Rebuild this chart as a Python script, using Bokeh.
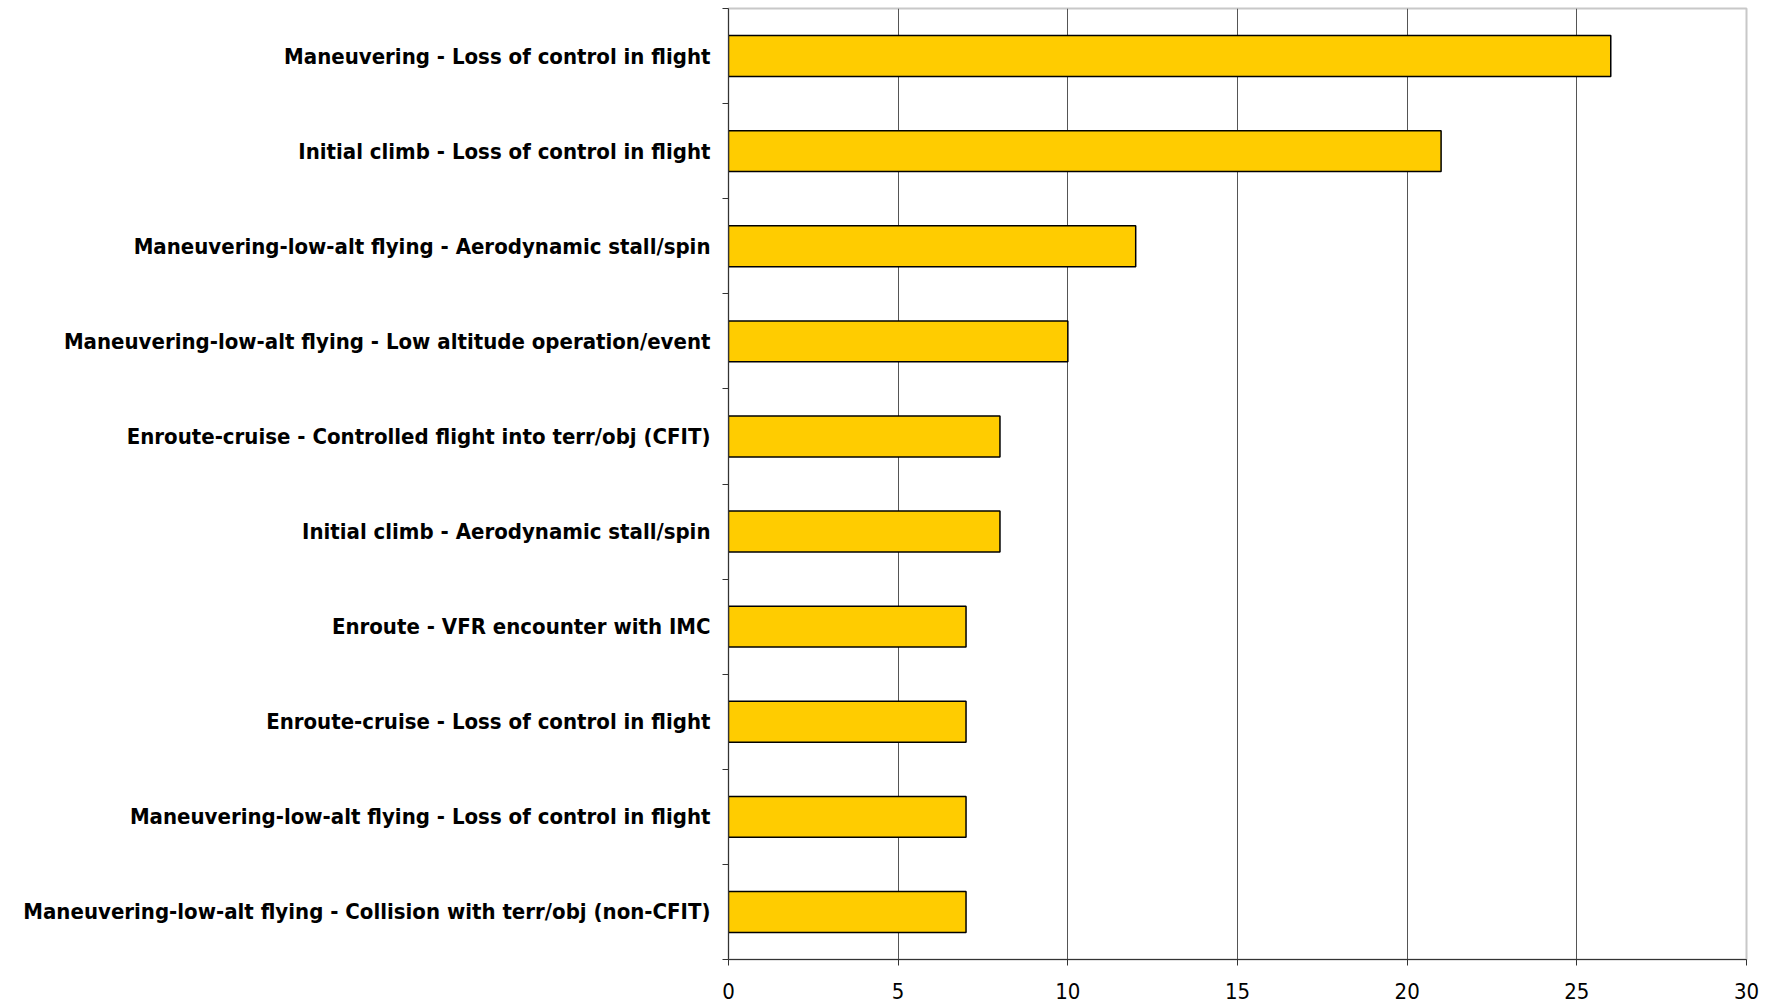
from bokeh.plotting import figure
from bokeh.models import FixedTicker, Range1d
from bokeh.embed import file_html
from bokeh.resources import INLINE

categories = [
    "Maneuvering - Loss of control in flight",
    "Initial climb - Loss of control in flight",
    "Maneuvering-low-alt flying - Aerodynamic stall/spin",
    "Maneuvering-low-alt flying - Low altitude operation/event",
    "Enroute-cruise - Controlled flight into terr/obj (CFIT)",
    "Initial climb - Aerodynamic stall/spin",
    "Enroute - VFR encounter with IMC",
    "Enroute-cruise - Loss of control in flight",
    "Maneuvering-low-alt flying - Loss of control in flight",
    "Maneuvering-low-alt flying - Collision with terr/obj (non-CFIT)",
]
values = [26, 21, 12, 10, 8, 8, 7, 7, 7, 7]
x_ticks = [0, 5, 10, 15, 20, 25, 30]

FONT = "'DejaVu Sans Condensed', 'Liberation Sans'"

n = len(categories)
ypos = [n - 1 - i for i in range(n)]

p = figure(width=1771, height=1007, output_backend="svg", toolbar_location=None,
           x_range=Range1d(0, 30), y_range=Range1d(-0.5, n - 0.5),
           min_border_left=728, min_border_right=25, min_border_top=8, min_border_bottom=48)

p.hbar(y=ypos, right=values, left=0, height=0.43, fill_color="#FFCC00",
       line_color="#000000", line_width=1.5)

p.xaxis.ticker = FixedTicker(ticks=x_ticks)
p.xaxis.major_tick_out = 6
p.xaxis.major_tick_in = 0
p.xaxis.minor_tick_out = 0
p.xaxis.axis_line_color = "#333333"
p.xaxis.major_tick_line_color = "#333333"
p.xaxis.major_label_text_font = FONT
p.xaxis.major_label_text_font_size = "22px"
p.xaxis.major_label_text_color = "#000000"
p.xaxis.major_label_standoff = 17

p.yaxis.ticker = FixedTicker(ticks=ypos, minor_ticks=[y - 0.5 for y in range(n + 1)])
p.yaxis.major_label_overrides = {ypos[i]: categories[i] for i in range(n)}
p.yaxis.major_tick_out = 0
p.yaxis.major_tick_in = 0
p.yaxis.minor_tick_out = 6
p.yaxis.minor_tick_in = 0
p.yaxis.minor_tick_line_color = "#333333"
p.yaxis.axis_line_color = "#333333"
p.yaxis.major_label_text_font = FONT
p.yaxis.major_label_text_font_style = "bold"
p.yaxis.major_label_text_font_size = "22px"
p.yaxis.major_label_text_color = "#000000"
p.yaxis.major_label_standoff = 12

p.xgrid.ticker = FixedTicker(ticks=[5, 10, 15, 20, 25])
p.xgrid.grid_line_color = "#555555"
p.xgrid.grid_line_width = 1
p.ygrid.grid_line_color = None

p.outline_line_color = "#c8c8c8"
p.outline_line_width = 2
p.background_fill_color = "white"
p.border_fill_color = "white"

open("out.html", "w").write(file_html(p, INLINE))
